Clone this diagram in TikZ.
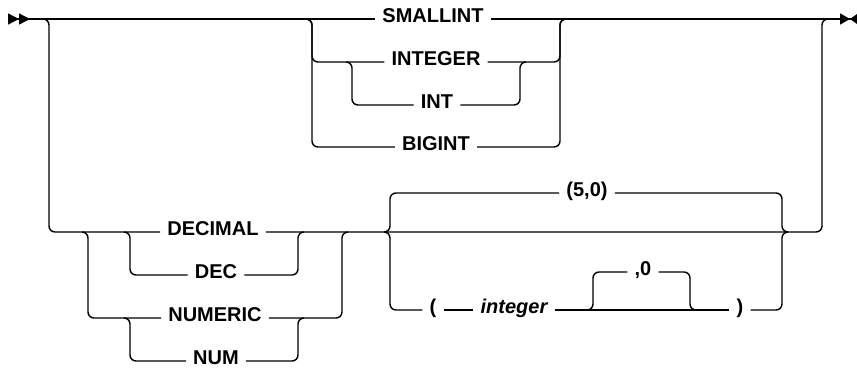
\documentclass[tikz,border=0pt]{standalone}
\usepackage{fontspec}
\newfontfamily\railfont{Liberation Sans}
\usepackage{tikz}
\usetikzlibrary{arrows.meta, positioning, calc}
\tikzset{
  % Syntax diagram styles
  rail/.style={line width=1.4pt, rounded corners=6pt},
  kw/.style={font=\railfont\bfseries\fontsize{20pt}{24pt}\selectfont, inner xsep=7pt, inner ysep=0pt, text height=0.9em, text depth=0.18em},
  var/.style={kw, font=\railfont\bfseries\itshape\fontsize{20pt}{24pt}\selectfont},
  railstart/.style={{Triangle[reversed,length=11pt,width=11pt]Triangle[reversed,length=11pt,width=11pt]}-},
  railend/.style={-{Triangle[length=10pt,width=11pt]Triangle[reversed,length=8pt,width=11pt]}},
}
\begin{document}
\begin{tikzpicture}[x=1pt, y=-1pt]
    \useasboundingbox (0,0) rectangle (857,370);

    % Ends of the main line
    \coordinate (begin) at (8,19);
    \coordinate (finish) at (858,19);

    % Integer types
    \node[kw] (smallint) at (433,19) {SMALLINT};
    \node[kw] (integer) at (436,62) {INTEGER};
    \node[kw] (int) at (437,105) {INT};
    \node[kw] (bigint) at (436,147) {BIGINT};

    % Decimal types
    \node[kw] (decimal) at (213,232) {DECIMAL};
    \node[kw] (dec) at (216,275) {DEC};
    \node[kw] (numeric) at (215,318) {NUMERIC};
    \node[kw] (num) at (216,361) {NUM};

    % Precision and scale
    \node[kw] (five0) at (587,193) {(5,0)};
    \node[kw] (lparen) at (433,310) {(};
    \node[var] (intarg) at (514,310) {integer};
    \node[kw] (comma0) at (643,272) {,0};
    \node[kw] (rparen) at (740,310) {)};

% === Rails ===
    \draw[rail, railstart] (begin) -- (smallint);
    \draw[rail, railend] (smallint) -- (finish);

    % Decimal branch leaves and rejoins the main line
    \draw[rail] (40,19) -| (49,232) -- (decimal);
    \draw[rail] (decimal) -| (822,19) -- (830,19);

    % INTEGER / INT / BIGINT
    \draw[rail] (306,19) -| (312,62) -- (integer);
    \draw[rail] (306,19) -| (312,147) -- (bigint);
    \draw[rail] (346,62) -| (352,105) -- (int);
    \draw[rail] (integer) -| (560,19) -- (566,19);
    \draw[rail] (int) -| (520,62) -- (526,62);
    \draw[rail] (bigint) -| (560,19) -- (566,19);

    % DEC / NUMERIC / NUM
    \draw[rail] (124,232) -| (130,275) -- (dec);
    \draw[rail] (dec) -| (298,232) -- (304,232);
    \draw[rail] (82,232) -| (88,318) -- (numeric);
    \draw[rail] (numeric) -| (342,232) -- (348,232);
    \draw[rail] (124,318) -| (130,361) -- (num);
    \draw[rail] (num) -| (298,318) -- (304,318);

    % Default (5,0) or ( integer ,0 )
    \draw[rail] (384,232) -| (390,193) -- (five0);
    \draw[rail] (five0) -| (782,232) -- (788,232);
    \draw[rail] (384,232) -| (390,310) -- (lparen);
    \draw[rail] (lparen) -- (intarg);
    \draw[rail] (intarg) -- (rparen);
    \draw[rail] (587,310) -| (593,272) -- (comma0);
    \draw[rail] (comma0) -| (690,310) -- (696,310);
    \draw[rail] (rparen) -| (782,232) -- (788,232);
  \end{tikzpicture}
\end{document}
